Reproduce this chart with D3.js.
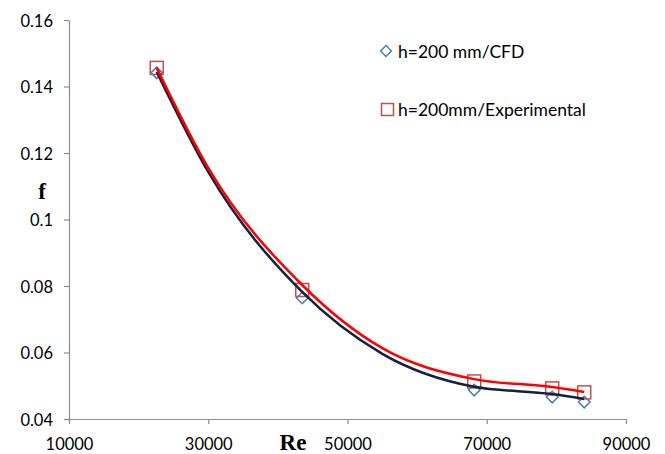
<!DOCTYPE html>
<html><head><meta charset="utf-8">
<script src="https://cdn.jsdelivr.net/npm/d3@7"></script>
<style>body{margin:0;background:#fff}svg{display:block}</style>
</head><body>
<svg id="c" width="665" height="454"></svg>
<script>
const reValues = [22600, 43500, 68200, 79400, 84000];
const cfdValues = [0.1441, 0.0764, 0.0487, 0.0466, 0.0451];
const expValues = [0.1456, 0.0788, 0.0513, 0.0492, 0.0480];
const trendRe = [22600, 30000, 43500, 55000, 68200, 79400, 84000];
const cfdTrend = [0.1444, 0.1143, 0.0782, 0.0596, 0.0497, 0.0475, 0.0460];
const expTrend = [0.1456, 0.1155, 0.0803, 0.0613, 0.0520, 0.0496, 0.0481];
const xTicks = [10000, 30000, 50000, 70000, 90000];
const yTicks = [0.04, 0.06, 0.08, 0.1, 0.12, 0.14, 0.16];
const legendLabels = ["h=200 mm/CFD", "h=200mm/Experimental"];

const svg = d3.select("#c");
const x = d3.scaleLinear().domain([10000, 90000]).range([69, 626]);
const y = d3.scaleLinear().domain([0.04, 0.16]).range([419, 20]);
const font = "Lato, 'Open Sans', sans-serif";

const xa = svg.append("g").attr("transform", "translate(0,419)")
  .call(d3.axisBottom(x).tickValues(xTicks).tickSize(5).tickSizeOuter(0).tickPadding(14).tickFormat(d3.format("d")));
const ya = svg.append("g").attr("transform", "translate(69,0)")
  .call(d3.axisLeft(y).tickValues(yTicks).tickSize(5).tickSizeOuter(0).tickPadding(11).tickFormat(d => String(d)));
[xa, ya].forEach(a => {
  a.select(".domain").attr("stroke", "#8c8c8c").attr("stroke-width", 1.2);
  a.selectAll(".tick line").attr("stroke", "#8c8c8c").attr("stroke-width", 1.2);
  a.selectAll("text").attr("font-family", font).attr("font-size", 16.5).attr("fill", "#000");
});
ya.selectAll("text").attr("dy", "0.38em");

// markers
const pts = reValues.map((r, i) => ({r, c: cfdValues[i], e: expValues[i]}));
svg.append("g").selectAll("path").data(pts).join("path")
  .attr("d", d3.symbol(d3.symbolDiamond2, 85)())
  .attr("transform", d => `translate(${x(d.r)},${y(d.c)})`)
  .attr("fill", "none").attr("stroke", "#4a7ebb").attr("stroke-width", 1.5);
svg.append("g").selectAll("rect").data(pts).join("rect")
  .attr("x", d => x(d.r) - 6.5).attr("y", d => y(d.e) - 6.5)
  .attr("width", 13).attr("height", 13)
  .attr("fill", "none").attr("stroke", "#c0504d").attr("stroke-width", 1.5);

// smooth lines
const line = vals => d3.line().curve(d3.curveMonotoneX)
  .x((d, i) => x(trendRe[i])).y(d => y(d))(vals);
svg.append("path").attr("d", line(cfdTrend)).attr("fill", "none")
  .attr("stroke", "#14213d").attr("stroke-width", 2.5);
svg.append("path").attr("d", line(expTrend)).attr("fill", "none")
  .attr("stroke", "#ff0000").attr("stroke-width", 2.5);

// legend
const lg = svg.append("g");
lg.append("path").attr("d", d3.symbol(d3.symbolDiamond2, 75)())
  .attr("transform", "translate(386,51)").attr("fill", "none")
  .attr("stroke", "#4a7ebb").attr("stroke-width", 1.5);
lg.append("rect").attr("x", 381.5).attr("y", 103.5).attr("width", 12).attr("height", 12)
  .attr("fill", "none").attr("stroke", "#c0504d").attr("stroke-width", 1.5);
lg.selectAll("text").data(legendLabels).join("text")
  .attr("x", 398).attr("y", (d, i) => i === 0 ? 57.5 : 116)
  .attr("font-family", font).attr("font-size", 17.5).text(d => d);

// axis titles
svg.append("text").attr("x", 42).attr("y", 199).attr("text-anchor", "middle")
  .attr("font-family", "'Liberation Serif', serif").attr("font-weight", "bold").attr("font-size", 23).text("f");
svg.append("text").attr("x", 293).attr("y", 450).attr("text-anchor", "middle")
  .attr("font-family", "'Liberation Serif', serif").attr("font-weight", "bold").attr("font-size", 23).text("Re");
</script>
</body></html>
